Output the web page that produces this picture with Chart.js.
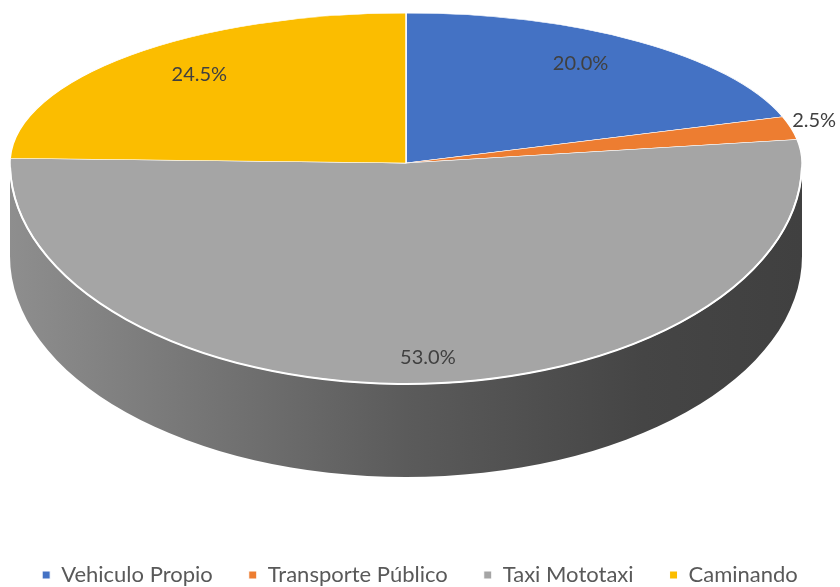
<!DOCTYPE html>
<html>
<head>
<meta charset="utf-8">
<script src="https://cdn.jsdelivr.net/npm/chart.js@4/dist/chart.umd.min.js"></script>
<style>
  html, body { margin: 0; padding: 0; background: #fff; overflow: hidden; }
  #contenedor { width: 840px; height: 587px; }
</style>
</head>
<body>
<div id="contenedor"><canvas id="graficoTransporte"></canvas></div>
<script>
const categorias = ['Vehiculo Propio', 'Transporte Público', 'Taxi Mototaxi', 'Caminando'];
const porcentajes = [20.0, 2.5, 53.0, 24.5];
const colores = ['#4472C4', '#ED7D31', '#A5A5A5', '#FBBD00'];

// geometria del "3D": centro, radios de la cara superior y profundidad del lateral
const CX = 406, CY = 163;
const RX = 396, RY_FONDO = 150, RY_FRENTE = 221;
const PROFUNDIDAD = 93;

function hexRgb(hex) {
    const n = parseInt(hex.slice(1), 16);
    return [(n >> 16) & 255, (n >> 8) & 255, n & 255];
}

function tono(hex, f) {
    const [r, g, b] = hexRgb(hex);
    return `rgb(${Math.round(r * f)}, ${Math.round(g * f)}, ${Math.round(b * f)})`;
}

// lleva el circulo de Chart.js a la elipse de la mitad que toque
function mapear(ctx, arco, ry) {
    const R = arco.outerRadius;
    ctx.translate(CX, CY);
    ctx.scale(RX / R, ry / R);
    ctx.translate(-arco.x, -arco.y);
}

const pastel3d = {
    id: 'pastel3d',
    beforeDatasetsDraw(chart) {
        const ctx = chart.ctx;
        const meta = chart.getDatasetMeta(0);

        // laterales: solo la mitad delantera (angulos 0..PI del canvas)
        meta.data.forEach((arco, i) => {
            const a0 = Math.max(arco.startAngle, 0);
            const a1 = Math.min(arco.endAngle, Math.PI);
            if (a1 <= a0) return;
            const color = colores[i];
            const grad = ctx.createLinearGradient(CX - RX, 0, CX + RX, 0);
            grad.addColorStop(0, tono(color, 0.86));
            grad.addColorStop(0.5, tono(color, 0.55));
            grad.addColorStop(0.8, tono(color, 0.42));
            grad.addColorStop(1, tono(color, 0.39));
            ctx.save();
            ctx.beginPath();
            ctx.ellipse(CX, CY, RX, RY_FRENTE, 0, a0, a1);
            ctx.ellipse(CX, CY + PROFUNDIDAD, RX, RY_FRENTE, 0, a1, a0, true);
            ctx.closePath();
            ctx.fillStyle = grad;
            ctx.fill();
            ctx.restore();
        });

        // mitad de atras
        ctx.save();
        ctx.beginPath();
        ctx.rect(0, 0, chart.width, CY);
        ctx.clip();
        mapear(ctx, meta.data[0], RY_FONDO);
    },
    afterDatasetsDraw(chart) {
        const ctx = chart.ctx;
        const meta = chart.getDatasetMeta(0);
        ctx.restore();

        // mitad de adelante
        ctx.save();
        ctx.beginPath();
        ctx.rect(0, CY, chart.width, chart.height - CY);
        ctx.clip();
        mapear(ctx, meta.data[0], RY_FRENTE);
        meta.controller.draw();
        ctx.restore();

        // borde blanco del frente, donde la cara se junta con el lateral
        ctx.save();
        ctx.beginPath();
        ctx.ellipse(CX, CY, RX, RY_FRENTE, 0, 0.02, Math.PI - 0.02);
        ctx.strokeStyle = '#ffffff';
        ctx.lineWidth = 2;
        ctx.stroke();
        ctx.restore();

        // etiquetas de datos
        ctx.save();
        ctx.font = '20px Lato';
        ctx.fillStyle = '#404040';
        ctx.textAlign = 'center';
        ctx.textBaseline = 'middle';
        meta.data.forEach((arco, i) => {
            const medio = (arco.startAngle + arco.endAngle) / 2;
            const delante = Math.sin(medio) > 0;
            const fuera = porcentajes[i] < 5;
            const f = fuera ? 1.06 : (delante ? 0.88 : 0.75);
            const ry = delante ? RY_FRENTE : RY_FONDO;
            const x = CX + f * RX * Math.cos(medio);
            const y = CY + f * ry * Math.sin(medio) - (fuera ? 5 : (delante ? 0 : 8));
            ctx.fillText(porcentajes[i].toFixed(1) + '%', x, y);
        });
        ctx.restore();
    }
};

const ctx = document.getElementById('graficoTransporte').getContext('2d');
const grafico = new Chart(ctx, {
    type: 'pie',
    data: {
        labels: categorias,
        datasets: [{
            data: porcentajes,
            backgroundColor: colores,
            borderColor: '#ffffff',
            borderWidth: 1,
            clip: false
        }]
    },
    options: {
        responsive: true,
        maintainAspectRatio: false,
        animation: false,
        events: [],
        layout: { padding: { bottom: -9 } },
        plugins: {
            tooltip: { enabled: false },
            legend: {
                position: 'bottom',
                labels: {
                    boxWidth: 8,
                    boxHeight: 8,
                    padding: 36,
                    color: '#595959',
                    font: { family: 'Lato', size: 22 }
                }
            }
        }
    },
    plugins: [pastel3d]
});
</script>
</body>
</html>
